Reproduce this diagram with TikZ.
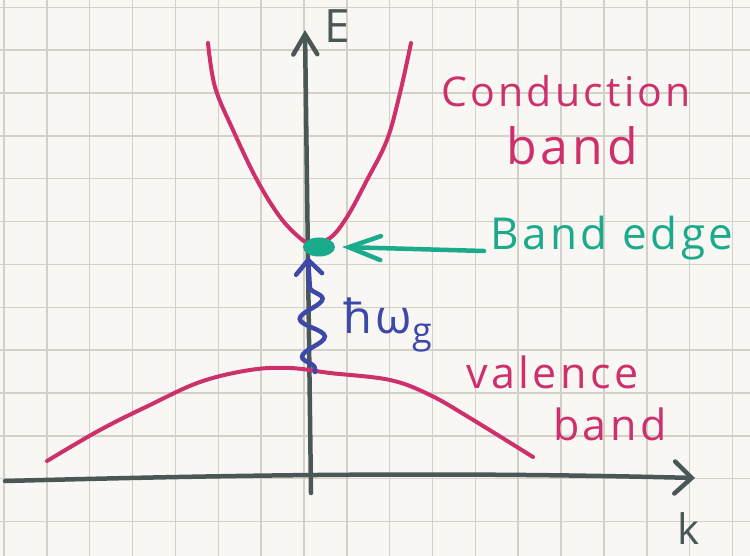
\documentclass[tikz,border=0pt]{standalone}
\usepackage{fontspec}
\setmainfont{Open Sans}[LetterSpace=8]
\usetikzlibrary{arrows.meta, decorations.pathmorphing, shapes.geometric}

\definecolor{paper}{HTML}{F9F7F3}
\definecolor{gridc}{HTML}{D4CFC8}
\definecolor{axisc}{HTML}{4A5757}
\definecolor{bandc}{HTML}{CE306C}
\definecolor{edgec}{HTML}{1AAA8C}
\definecolor{photc}{HTML}{3E48A8}

\tikzset{
  gridline/.style={gridc, line width=1.5pt},
  axisline/.style={axisc, line width=4.5pt, line cap=round},
  bandline/.style={bandc, line width=4pt, line cap=round},
  lbl/.style={inner sep=0pt, anchor=base west},
  bigtext/.style={font=\fontsize{41}{46}\selectfont},
}

\begin{document}
\begin{tikzpicture}[x=1pt, y=-1pt]
  \useasboundingbox (0,0) rectangle (750,556);
  \fill[paper] (0,0) rectangle (750,556);
  \foreach \i in {0,...,17}
    \draw[gridline] ({4+42.85*\i},0) -- ({4+42.85*\i},556);
  \foreach \j in {0,...,12}
    \draw[gridline] (0,{7.3+42.85*\j}) -- (750,{7.3+42.85*\j});

  % axes
  \coordinate (kl) at (5,481);
  \coordinate (kr) at (695,478);
  \coordinate (eb) at (311,493);
  \coordinate (et) at (305,30);
  \draw[axisline, -{Straight Barb[length=17pt, width=32pt, line cap=round]}]
    (kl) .. controls (200,476) and (420,471) .. (kr);
  \draw[axisline, -{Straight Barb[length=20pt, width=24pt, line cap=round]}] (eb) -- (et);
  \node[lbl, axisc, font=\fontsize{46}{50}\selectfont] (elbl) at (324,43) {E};
  \node[lbl, axisc, font=\fontsize{42}{46}\selectfont] (klbl) at (677,544) {k};

  % bands
  \draw[bandline] plot[smooth, tension=0.6] coordinates {(208,43) (215,87) (233,130)
    (257,180) (280,217) (300,238) (311,243) (330,238) (347,217) (367,180) (387,140)
    (400,93) (411,43)};
  \draw[bandline] plot[smooth, tension=0.6] coordinates {(47,461) (100,430) (150,405)
    (200,382) (250,370) (290,368) (330,373) (390,380) (430,395) (470,418) (533,457)};
  \node[lbl, bandc, bigtext] (cbup) at (441,107) {Conduction};
  \node[lbl, bandc, font=\fontsize{50}{54}\selectfont] (cblo) at (506,165) {band};
  \node[lbl, bandc, font=\fontsize{43}{46}\selectfont] (vbup) at (466,388) {valence};
  \node[lbl, bandc, font=\fontsize{43}{46}\selectfont] (vblo) at (553,440) {band};

  % band edge
  \node[ellipse, fill=edgec, minimum width=32pt, minimum height=19pt, inner sep=0pt] (bedge) at (319,247) {};
  \node[lbl, edgec, font=\fontsize{44}{48}\selectfont] (edgetxt) at (490,250) {Band edge};
  \draw[edgec, line width=4.5pt, line cap=round,
    -{Straight Barb[length=32pt, width=24pt, line cap=round]}]
    ([xshift=-6pt, yshift=-1pt]edgetxt.base west) -- ([xshift=7pt]bedge.east);

  % photon
  \coordinate (vpeak) at (315,372);
  \draw[photc, line width=4.5pt, line cap=round, decorate,
    decoration={snake, amplitude=12pt, segment length=38pt, pre length=4pt, post length=26pt},
    -{Straight Barb[length=14pt, width=26pt, line cap=round]}]
    (vpeak) -- ([xshift=-11pt]bedge.south);
  \node[lbl, photc, font=\fontsize{47}{50}\selectfont] (hw) at (343,333)
    {ħω\raisebox{-10pt}{\fontsize{36}{38}\selectfont g}};
\end{tikzpicture}
\end{document}
